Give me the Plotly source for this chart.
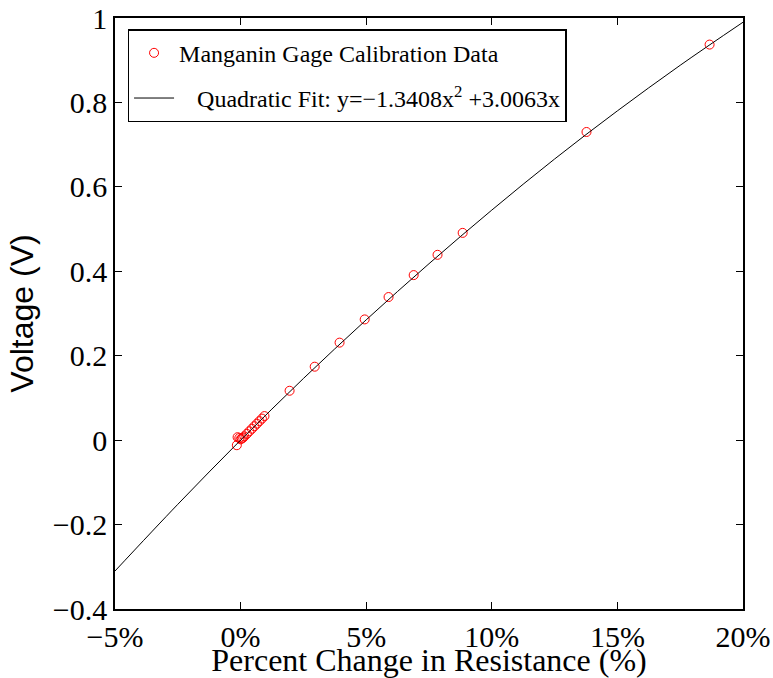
import plotly.graph_objects as go

# Calibration data (percent change in resistance, voltage)
data_x = [-0.15, -0.12, -0.05, 0.0, 0.05, 0.1, 0.15, 0.25, 0.35, 0.45, 0.55, 0.65, 0.75,
          0.85, 0.95, 1.95, 2.95, 3.94, 4.94, 5.89, 6.89, 7.84, 8.84, 13.77, 18.67]
data_y = [-0.012, 0.007, 0.005, 0.002, 0.004, 0.006, 0.009, 0.015, 0.021, 0.027, 0.033,
          0.039, 0.045, 0.051, 0.057, 0.117, 0.174, 0.231, 0.286, 0.339, 0.391, 0.439,
          0.491, 0.730, 0.937]

# Fit curve
fit_x = [-5, -2.5, 0, 2.5, 5, 7.5, 10, 12.5, 15, 17.5, 20]
fit_y = [-0.31, -0.152, 0.0, 0.146, 0.285, 0.418, 0.545, 0.666, 0.780, 0.888, 0.99]

x_ticks = [-5, 0, 5, 10, 15, 20]
x_ticktext = ["\u22125%", "0%", "5%", "10%", "15%", "20%"]
y_ticks = [-0.4, -0.2, 0, 0.2, 0.4, 0.6, 0.8, 1]
y_ticktext = ["\u22120.4", "\u22120.2", "0", "0.2", "0.4", "0.6", "0.8", "1"]

serif = "Liberation Serif"

fig = go.Figure()
fig.add_trace(go.Scatter(
    x=data_x, y=data_y, mode="markers",
    name="Manganin Gage Calibration Data",
    legendgroup="a",
    marker=dict(symbol="circle-open", size=9, color="red", line=dict(width=1, color="red")),
))
fig.add_trace(go.Scatter(
    x=fit_x, y=fit_y, mode="lines",
    name="\u00a0\u00a0\u00a0Quadratic Fit: y=\u22121.3408x<sup>2</sup> +3.0063x",
    legendgroup="b",
    line=dict(color="black", width=1, shape="spline"),
))

axis_common = dict(
    showgrid=False, zeroline=False, showline=True, linecolor="black", linewidth=1.5,
    mirror="ticks", ticks="inside", ticklen=7, tickwidth=1, tickcolor="black",
    tickfont=dict(family=serif, size=30, color="black"),
    ticklabeloverflow="allow", automargin=False,
)

fig.update_layout(
    width=773, height=678,
    font=dict(family=serif, color="black"),
    margin=dict(l=115, r=30, t=18, b=69),
    paper_bgcolor="white", plot_bgcolor="white",
    xaxis=dict(range=[-5, 20], tickvals=x_ticks, ticktext=x_ticktext,
               title=dict(text="Percent Change in Resistance (%)",
                          font=dict(family=serif, size=32, color="black"), standoff=2),
               **axis_common),
    yaxis=dict(range=[-0.4, 1], tickvals=y_ticks, ticktext=y_ticktext,
               title=dict(text="Voltage (V)",
                          font=dict(family="Liberation Sans", size=32, color="black"),
                          standoff=10),
               **axis_common),
    legend=dict(x=0.02, y=0.981, xanchor="left", yanchor="top",
                bgcolor="white", bordercolor="black", borderwidth=1.5,
                font=dict(family=serif, size=24, color="black"),
                tracegroupgap=11, itemwidth=40),
    showlegend=True,
)

fig.write_html("out.html")
